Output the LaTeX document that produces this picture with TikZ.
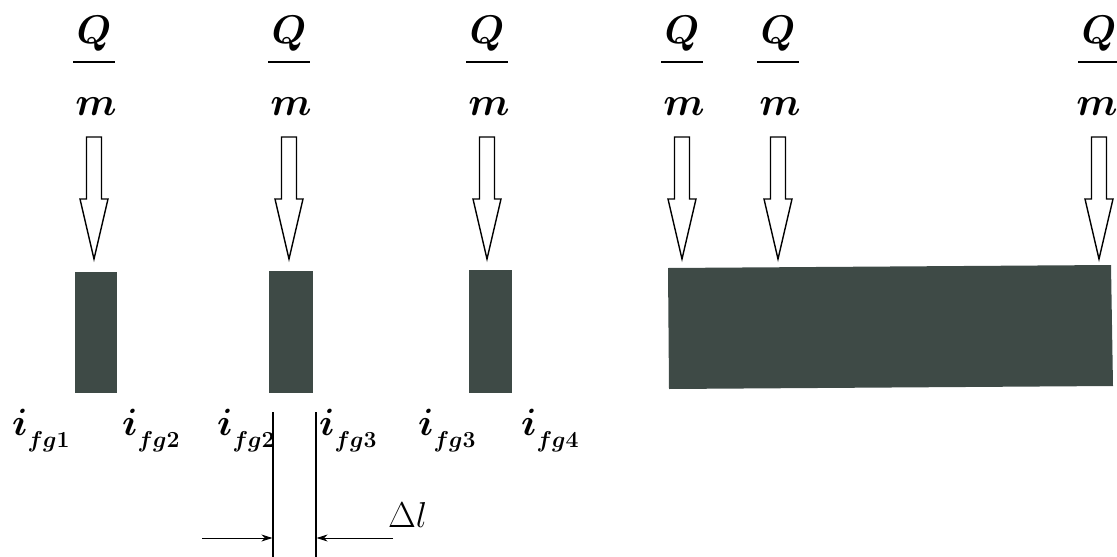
\RequirePackage{fix-cm}
\documentclass[tikz,border=0pt]{standalone}
\usetikzlibrary{arrows.meta}
\definecolor{blockc}{RGB}{62,74,70}
\newcommand{\isub}[1]{$i$\raisebox{-12pt}{\fontsize{23}{25}\selectfont\boldmath$fg$\textbf{#1}}}
\tikzset{
  qtxt/.style={font=\fontsize{40}{44}\selectfont\boldmath, inner sep=0pt, anchor=base},
  ilab/.style={font=\fontsize{38}{40}\selectfont\boldmath, inner sep=0pt, anchor=base west},
  blockr/.style={fill=blockc, draw=none},
  hollow/.style={draw=black, line width=1.4pt, fill=white, line join=miter},
  thin/.style={line width=1.2pt},
  dimarrow/.style={line width=0.9pt, -{Stealth[length=11pt,width=7pt]}}
}
\begin{document}
\begin{tikzpicture}[x=1pt,y=-1pt]
\useasboundingbox (0,0) rectangle (1117,557);
% Q/m labels and hollow arrows
\foreach \n/\x/\mx in {a/94/96,b/289/291,c/487/489,d/682/684,e/778/780,f/1099/1097}{
  \node[qtxt] (Q\n) at (\x,43) {$Q$};
  \draw[line width=1.6pt] (\x-21,62) -- (\x+21,62);
  \node[qtxt] (m\n) at (\mx,115) {$m$};
  \draw[hollow] (\x-7.5,137) -- (\x+7.5,137) -- (\x+7.5,199) -- (\x+14,199)
     -- (\x,259) -- (\x-14,199) -- (\x-7.5,199) -- cycle;
}
% blocks
\fill[blockr] (75,272) rectangle (117,393);
\fill[blockr] (269,271) rectangle (313,393);
\fill[blockr] (469,270) rectangle (512,393);
\fill[blockr] (668,268) -- (1111,265) -- (1113,386) -- (669,389) -- cycle;
% labels
\node[ilab] (l1) at (12,435) {\isub{1}};
\node[ilab] (l2) at (122,435) {\isub{2}};
\node[ilab] (l3) at (217,435) {\isub{2}};
\node[ilab] (l4) at (319,435) {\isub{3}};
\node[ilab] (l5) at (418,435) {\isub{3}};
\node[ilab] (l6) at (521,435) {\isub{4}};
% dimension lines
\coordinate (v1t) at (273,412); \coordinate (v1b) at (273,557);
\coordinate (v2t) at (316,412); \coordinate (v2b) at (316,557);
\draw[thin] (v1t) -- (v1b);
\draw[thin] (v2t) -- (v2b);
\coordinate (a1s) at (202,538); \coordinate (a1e) at (272.4,538);
\coordinate (a2s) at (393,538); \coordinate (a2e) at (316.6,538);
\draw[dimarrow] (a1s) -- (a1e);
\draw[dimarrow] (a2s) -- (a2e);
\node[font=\fontsize{36}{40}\selectfont, inner sep=0pt, anchor=base west] (dl) at (388,527) {$\Delta l$};
\end{tikzpicture}
\end{document}
